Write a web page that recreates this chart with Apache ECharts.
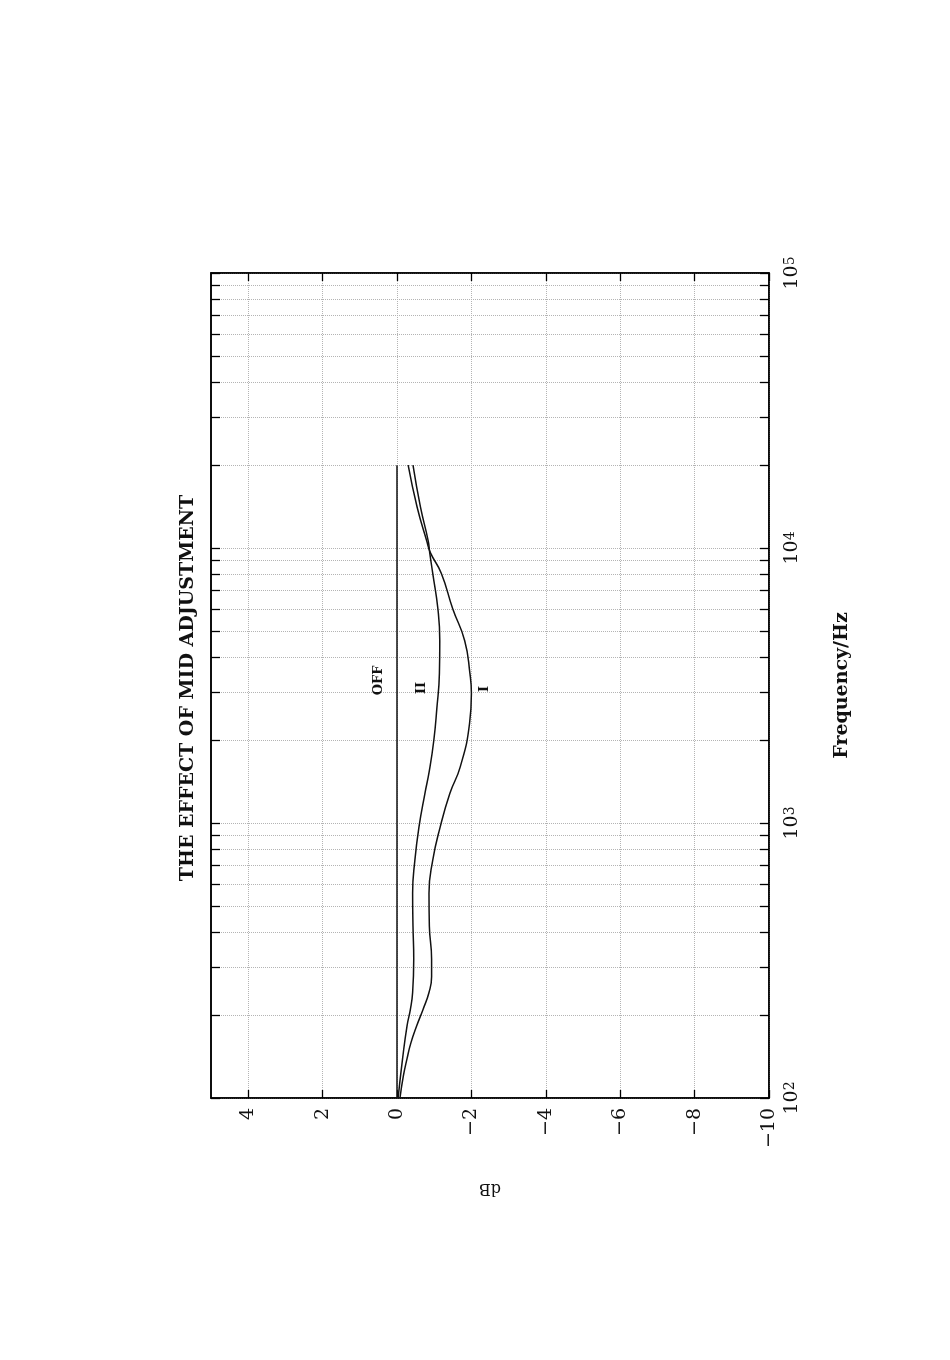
<!DOCTYPE html>
<html><head><meta charset="utf-8">
<script src="https://cdn.jsdelivr.net/npm/echarts@6/dist/echarts.min.js"></script>
<style>html,body{margin:0;padding:0;background:#fff}#c{width:950px;height:1360px}</style>
</head><body><div id="c"></div>
<script>
// ---- data ----
const titleText = 'THE EFFECT OF MID ADJUSTMENT';
const dbTicks = [-10, -8, -6, -4, -2, 0, 2, 4];
const freqLabelTicks = [100, 1000, 10000, 100000];
const freqGridTicks = [100, 200, 300, 400, 500, 600, 700, 800, 900,
  1000, 2000, 3000, 4000, 5000, 6000, 7000, 8000, 9000,
  10000, 20000, 30000, 40000, 50000, 60000, 70000, 80000, 90000, 100000];

const offFreq = [100, 20000];
const offDb = [0, 0];

const iiFreq = [100, 139, 183, 210, 242, 320, 421, 555, 731, 966, 1280, 1550, 2000, 2600, 3500, 4600, 6000, 8100, 9600, 10600, 14100, 20000];
const iiDb   = [-0.03, -0.15, -0.27, -0.36, -0.42, -0.45, -0.43, -0.42, -0.48, -0.59, -0.75, -0.87, -0.99, -1.07, -1.14, -1.15, -1.10, -0.96, -0.88, -0.84, -0.63, -0.43];

const iFreq = [100, 120, 139, 158, 183, 210, 242, 276, 320, 421, 555, 731, 966, 1280, 1600, 2300, 2960, 3500, 4600, 6000, 8100, 9600, 10600, 14100, 20000];
const iDb   = [-0.08, -0.17, -0.27, -0.37, -0.53, -0.70, -0.86, -0.93, -0.93, -0.87, -0.86, -0.96, -1.16, -1.42, -1.70, -1.95, -2.00, -1.96, -1.82, -1.50, -1.19, -0.90, -0.80, -0.54, -0.30];

const curveNames = ['OFF', 'II', 'I'];
const curveLabelDb = [0.5, -0.67, -2.36];
const curveLabelFreq = [3300, 3100, 3070];

// ---- chart ----
const SERIF = '"DejaVu Serif", "Liberation Serif", serif';
function pairs(f, d) { return f.map((v, i) => [d[i], v]); }
function dbFmt(v) { return v < 0 ? '\u2212' + (-v) : String(v); }
function freqFmt(v) {
  const e = Math.round(Math.log10(v));
  return '{b|10}{s|' + e + '}';
}
const gridLine = { show: true, lineStyle: { color: '#b4b4b4', type: 'dotted', width: 1 } };

function xAx(pos, labels) {
  return {
    type: 'value', position: pos, min: -10, max: 5, interval: 2, inverse: true,
    axisLine: { show: true, onZero: false, lineStyle: { color: '#000', width: 1.5 } },
    axisTick: { show: true, inside: true, length: 8, customValues: dbTicks, lineStyle: { color: '#000', width: 1.3 } },
    axisLabel: labels ? { show: true, customValues: dbTicks, rotate: 90, margin: 10, formatter: dbFmt,
      fontFamily: SERIF, fontSize: 19, color: '#111' } : { show: false },
    splitLine: labels ? gridLine : { show: false },
    name: labels ? 'dB' : '', nameLocation: 'middle', nameRotate: 180, nameGap: 82,
    nameTextStyle: { fontFamily: SERIF, fontSize: 16, color: '#111' }
  };
}
function yAx(pos, labels) {
  return {
    type: 'log', logBase: 10, position: pos, min: 100, max: 100000,
    axisLine: { show: true, onZero: false, lineStyle: { color: '#000', width: 1.5 } },
    axisTick: { show: true, inside: true, length: 9, customValues: freqGridTicks, lineStyle: { color: '#000', width: 1.3 } },
    axisLabel: labels ? { show: true, customValues: freqLabelTicks, rotate: 90, margin: 14, formatter: freqFmt,
      rich: { b: { fontFamily: SERIF, fontSize: 19, color: '#111' }, s: { fontFamily: SERIF, fontSize: 14, color: '#111', verticalAlign: 'top' } } } : { show: false },
    splitLine: labels ? gridLine : { show: false },
    name: labels ? 'Frequency/Hz' : '', nameLocation: 'middle', nameRotate: 90, nameGap: 64,
    nameTextStyle: { fontFamily: SERIF, fontSize: 19, fontWeight: 'bold', color: '#111' }
  };
}
function lineSeries(f, d, idx) {
  return {
    type: 'line', data: pairs(f, d), smooth: 0.5, symbol: 'none', xAxisIndex: 0, yAxisIndex: 0,
    lineStyle: { color: '#111', width: 1.5 }, z: 5,
    markPoint: {
      symbol: 'circle', symbolSize: 0, silent: true,
      label: { show: true, formatter: '{b}', rotate: 90, position: 'inside', fontFamily: SERIF, fontWeight: 'bold', fontSize: 13, color: '#111' },
      data: [{ name: curveNames[idx], coord: [curveLabelDb[idx], curveLabelFreq[idx]] }]
    }
  };
}

const chart = echarts.init(document.getElementById('c'), null, { renderer: 'canvas' });
chart.setOption({
  animation: false,
  backgroundColor: '#fff',
  grid: { left: 211, right: 181, top: 273, bottom: 262, show: true, borderColor: '#000', borderWidth: 1.5, backgroundColor: 'transparent' },
  xAxis: [xAx('bottom', true), xAx('top', false)],
  yAxis: [yAx('right', true), yAx('left', false)],
  series: [lineSeries(offFreq, offDb, 0), lineSeries(iiFreq, iiDb, 1), lineSeries(iFreq, iDb, 2)],
  graphic: [{
    type: 'text', x: 188, y: 688, rotation: Math.PI / 2,
    style: { text: titleText, font: 'bold 19px ' + SERIF, fill: '#111', align: 'center', verticalAlign: 'middle', textAlign: 'center', textVerticalAlign: 'middle' }
  }]
});
</script></body></html>
